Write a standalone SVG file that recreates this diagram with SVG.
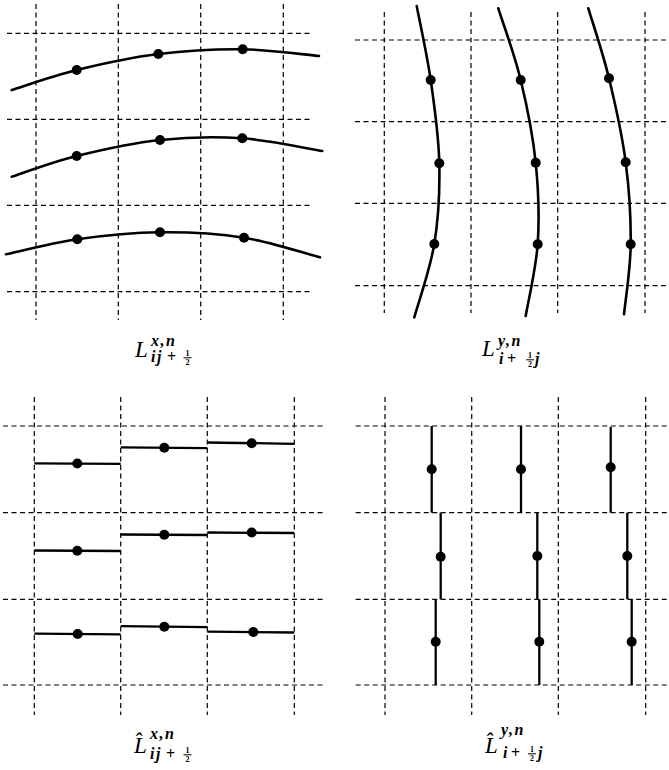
<svg xmlns="http://www.w3.org/2000/svg" width="669" height="770" viewBox="0 0 669 770">
<style>
.grid{stroke:#000;stroke-width:1.2;stroke-dasharray:5 3.5;fill:none}
.curve{stroke:#000;stroke-width:2.6;fill:none;stroke-linecap:round}
.seg{stroke:#000;stroke-width:2.3;fill:none}
.dot{fill:#000}
.L{font-family:"Liberation Serif","DejaVu Serif",serif;font-style:italic;font-size:23px;fill:#000}
.sc{font-family:"Liberation Serif","DejaVu Serif",serif;font-style:italic;font-weight:bold;font-size:16px;letter-spacing:1.5px;fill:#000}
.pl{font-family:"Liberation Serif","DejaVu Serif",serif;font-weight:bold;font-size:16px;fill:#000}
.fr{font-family:"Liberation Serif","DejaVu Serif",serif;font-weight:bold;font-size:8px;fill:#000}
.bar{stroke:#000;stroke-width:1}
</style>
<rect width="669" height="770" fill="#fff"/>

<g id="panel-top-left">
  <g class="grid">
    <line x1="36" y1="4" x2="36" y2="320"/>
    <line x1="118.3" y1="4" x2="118.3" y2="320"/>
    <line x1="200.7" y1="4" x2="200.7" y2="320"/>
    <line x1="283.3" y1="4" x2="283.3" y2="320"/>
    <line x1="7" y1="33.3" x2="312" y2="33.3"/>
    <line x1="7" y1="119.3" x2="312" y2="119.3"/>
    <line x1="7" y1="205.3" x2="312" y2="205.3"/>
    <line x1="7" y1="291.7" x2="312" y2="291.7"/>
  </g>
  <path class="curve" d="M11.7,90 C22.5,86.7 52.3,76 76.7,70 C101.1,64 130.6,57.5 158.3,54 C186,50.6 215.9,49 242.7,49.3 C269.5,49.6 306.3,54.9 319,56"/>
  <path class="curve" d="M11.7,176.7 C22.5,173.2 52,162.1 76.7,156 C101.4,149.9 132.4,143 160,140 C187.6,137.1 215.3,136.5 242.3,138.3 C269.4,140.1 309,148.9 322.3,151"/>
  <path class="curve" d="M6,254.3 C17.9,251.8 51.6,243 77.3,239.3 C103,235.6 132.2,232.6 160,232.3 C187.8,232 217.3,233.5 244,237.7 C270.7,241.9 307.3,254 320,257.3"/>
  <g class="dot">
    <circle cx="76.7" cy="70" r="5"/><circle cx="158.3" cy="54" r="5"/><circle cx="242.7" cy="49.3" r="5"/>
    <circle cx="76.7" cy="156" r="5"/><circle cx="160" cy="140" r="5"/><circle cx="242.3" cy="138.3" r="5"/>
    <circle cx="77.3" cy="239.3" r="5"/><circle cx="160" cy="232.3" r="5"/><circle cx="244" cy="237.7" r="5"/>
  </g>
</g>

<g id="panel-top-right">
  <g class="grid">
    <line x1="384.3" y1="12" x2="384.3" y2="313"/>
    <line x1="471" y1="12" x2="471" y2="313"/>
    <line x1="557.7" y1="12" x2="557.7" y2="313"/>
    <line x1="645" y1="12" x2="645" y2="313"/>
    <line x1="355" y1="40" x2="668" y2="40"/>
    <line x1="355" y1="121.7" x2="668" y2="121.7"/>
    <line x1="355" y1="203.3" x2="668" y2="203.3"/>
    <line x1="355" y1="285.7" x2="668" y2="285.7"/>
  </g>
  <path class="curve" d="M416.7,6 C419,18.3 426.9,53.8 430.7,80 C434.5,106.2 438.7,136 439.3,163.3 C439.9,190.6 438.5,218.3 434.3,244 C430.1,269.7 417.6,305.1 414.3,317.3"/>
  <path class="curve" d="M498.3,8.3 C502,20.3 514.5,54.3 520.7,80 C526.9,105.7 532.9,135.3 535.7,162.7 C538.5,190.1 539.4,218.7 537.7,244.3 C535.7,270 527.7,304 525.7,316"/>
  <path class="curve" d="M588.3,8.3 C591.8,20 602.8,52.6 609,78.3 C615.2,104 622.1,134.6 625.7,162.3 C629.3,190 631,219 630.7,244.3 C630.4,270.6 625.1,302.6 624,314.3"/>
  <g class="dot">
    <circle cx="430.7" cy="80" r="5"/><circle cx="439.3" cy="163.3" r="5"/><circle cx="434.3" cy="244" r="5"/>
    <circle cx="520.7" cy="80" r="5"/><circle cx="535.7" cy="162.7" r="5"/><circle cx="537.7" cy="244.3" r="5"/>
    <circle cx="609" cy="78.3" r="5"/><circle cx="625.7" cy="162.3" r="5"/><circle cx="630.7" cy="244.3" r="5"/>
  </g>
</g>

<g id="label-top-left">
  <text class="L" x="135" y="357">L</text>
  <text class="sc" x="151" y="346">x,n</text>
  <text class="sc" x="151" y="362">ij</text>
  <text class="pl" x="167" y="362">+</text>
  <text class="fr" x="185.5" y="356">1</text>
  <line class="bar" x1="183.5" y1="357.8" x2="191.5" y2="357.8"/>
  <text class="fr" x="185.5" y="365">2</text>
</g>

<g id="label-top-right">
  <text class="L" x="482" y="356">L</text>
  <text class="sc" x="498" y="346">y,n</text>
  <text class="sc" x="499" y="364">i</text>
  <text class="pl" x="507" y="364">+</text>
  <text class="fr" x="528" y="358">1</text>
  <line class="bar" x1="526" y1="359.8" x2="534" y2="359.8"/>
  <text class="fr" x="528" y="367">2</text>
  <text class="sc" x="535" y="364">j</text>
</g>

<g id="panel-bottom-left">
  <g class="grid">
    <line x1="34.3" y1="397" x2="34.3" y2="715"/>
    <line x1="120.7" y1="397" x2="120.7" y2="715"/>
    <line x1="207.3" y1="397" x2="207.3" y2="715"/>
    <line x1="294.3" y1="397" x2="294.3" y2="715"/>
    <line x1="3" y1="426" x2="323" y2="426"/>
    <line x1="3" y1="512.7" x2="323" y2="512.7"/>
    <line x1="3" y1="599.3" x2="323" y2="599.3"/>
    <line x1="3" y1="685" x2="323" y2="685"/>
  </g>
  <g class="seg">
    <line x1="34.3" y1="463.3" x2="120.7" y2="463.8"/>
    <line x1="120.7" y1="447.3" x2="207.3" y2="448.2"/>
    <line x1="207.3" y1="442.5" x2="294.3" y2="443.8"/>
    <line x1="34.3" y1="550.5" x2="120.7" y2="551"/>
    <line x1="120.7" y1="534.5" x2="207.3" y2="535"/>
    <line x1="207.3" y1="532.5" x2="294.3" y2="533"/>
    <line x1="34.3" y1="633.7" x2="120.7" y2="634.3"/>
    <line x1="120.7" y1="626.2" x2="207.3" y2="627.2"/>
    <line x1="207.3" y1="631.7" x2="294.3" y2="632.5"/>
  </g>
  <g class="dot">
    <circle cx="77.3" cy="463.5" r="5"/><circle cx="164.3" cy="447.7" r="5"/><circle cx="251.7" cy="443.2" r="5"/>
    <circle cx="77.3" cy="550.7" r="5"/><circle cx="164.3" cy="534.7" r="5"/><circle cx="251.7" cy="532.5" r="5"/>
    <circle cx="77.7" cy="634" r="5"/><circle cx="164.3" cy="626.7" r="5"/><circle cx="253.3" cy="632" r="5"/>
  </g>
</g>

<g id="panel-bottom-right">
  <g class="grid">
    <line x1="385" y1="397" x2="385" y2="715"/>
    <line x1="471.7" y1="397" x2="471.7" y2="715"/>
    <line x1="558.3" y1="397" x2="558.3" y2="715"/>
    <line x1="645.7" y1="397" x2="645.7" y2="715"/>
    <line x1="355.7" y1="426" x2="669" y2="426"/>
    <line x1="355.7" y1="512.7" x2="669" y2="512.7"/>
    <line x1="355.7" y1="599.3" x2="669" y2="599.3"/>
    <line x1="355.7" y1="685" x2="669" y2="685"/>
  </g>
  <g class="seg">
    <line x1="431.7" y1="426" x2="431.7" y2="512.7"/>
    <line x1="521" y1="426" x2="521" y2="512.7"/>
    <line x1="610.7" y1="427" x2="610.7" y2="512.7"/>
    <line x1="440.7" y1="512.7" x2="440.7" y2="599.3"/>
    <line x1="537.3" y1="512.7" x2="537.3" y2="599.3"/>
    <line x1="627.3" y1="512.7" x2="627.3" y2="599.3"/>
    <line x1="435.7" y1="599.3" x2="435.7" y2="685"/>
    <line x1="539.3" y1="599.3" x2="539.3" y2="685"/>
    <line x1="631.7" y1="599.3" x2="631.7" y2="685"/>
  </g>
  <g class="dot">
    <circle cx="431.7" cy="469.3" r="5"/><circle cx="521" cy="469.3" r="5"/><circle cx="610.7" cy="467.3" r="5"/>
    <circle cx="440.7" cy="556.7" r="5"/><circle cx="537.3" cy="556" r="5"/><circle cx="627.3" cy="556" r="5"/>
    <circle cx="435.7" cy="641.7" r="5"/><circle cx="539.3" cy="641.7" r="5"/><circle cx="631.7" cy="641.7" r="5"/>
  </g>
</g>

<g id="label-bottom-left">
  <text class="L" x="134" y="753">L&#x302;</text>
  <text class="sc" x="150" y="739">x,n</text>
  <text class="sc" x="150" y="759">ij</text>
  <text class="pl" x="166" y="759">+</text>
  <text class="fr" x="185.5" y="753">1</text>
  <line class="bar" x1="183.5" y1="754.8" x2="191.5" y2="754.8"/>
  <text class="fr" x="185.5" y="762">2</text>
</g>

<g id="label-bottom-right">
  <text class="L" x="485" y="753">L&#x302;</text>
  <text class="sc" x="501" y="735">y,n</text>
  <text class="sc" x="503" y="758">i</text>
  <text class="pl" x="511" y="758">+</text>
  <text class="fr" x="530" y="752">1</text>
  <line class="bar" x1="528" y1="753.8" x2="536" y2="753.8"/>
  <text class="fr" x="530" y="761">2</text>
  <text class="sc" x="538" y="758">j</text>
</g>
</svg>
